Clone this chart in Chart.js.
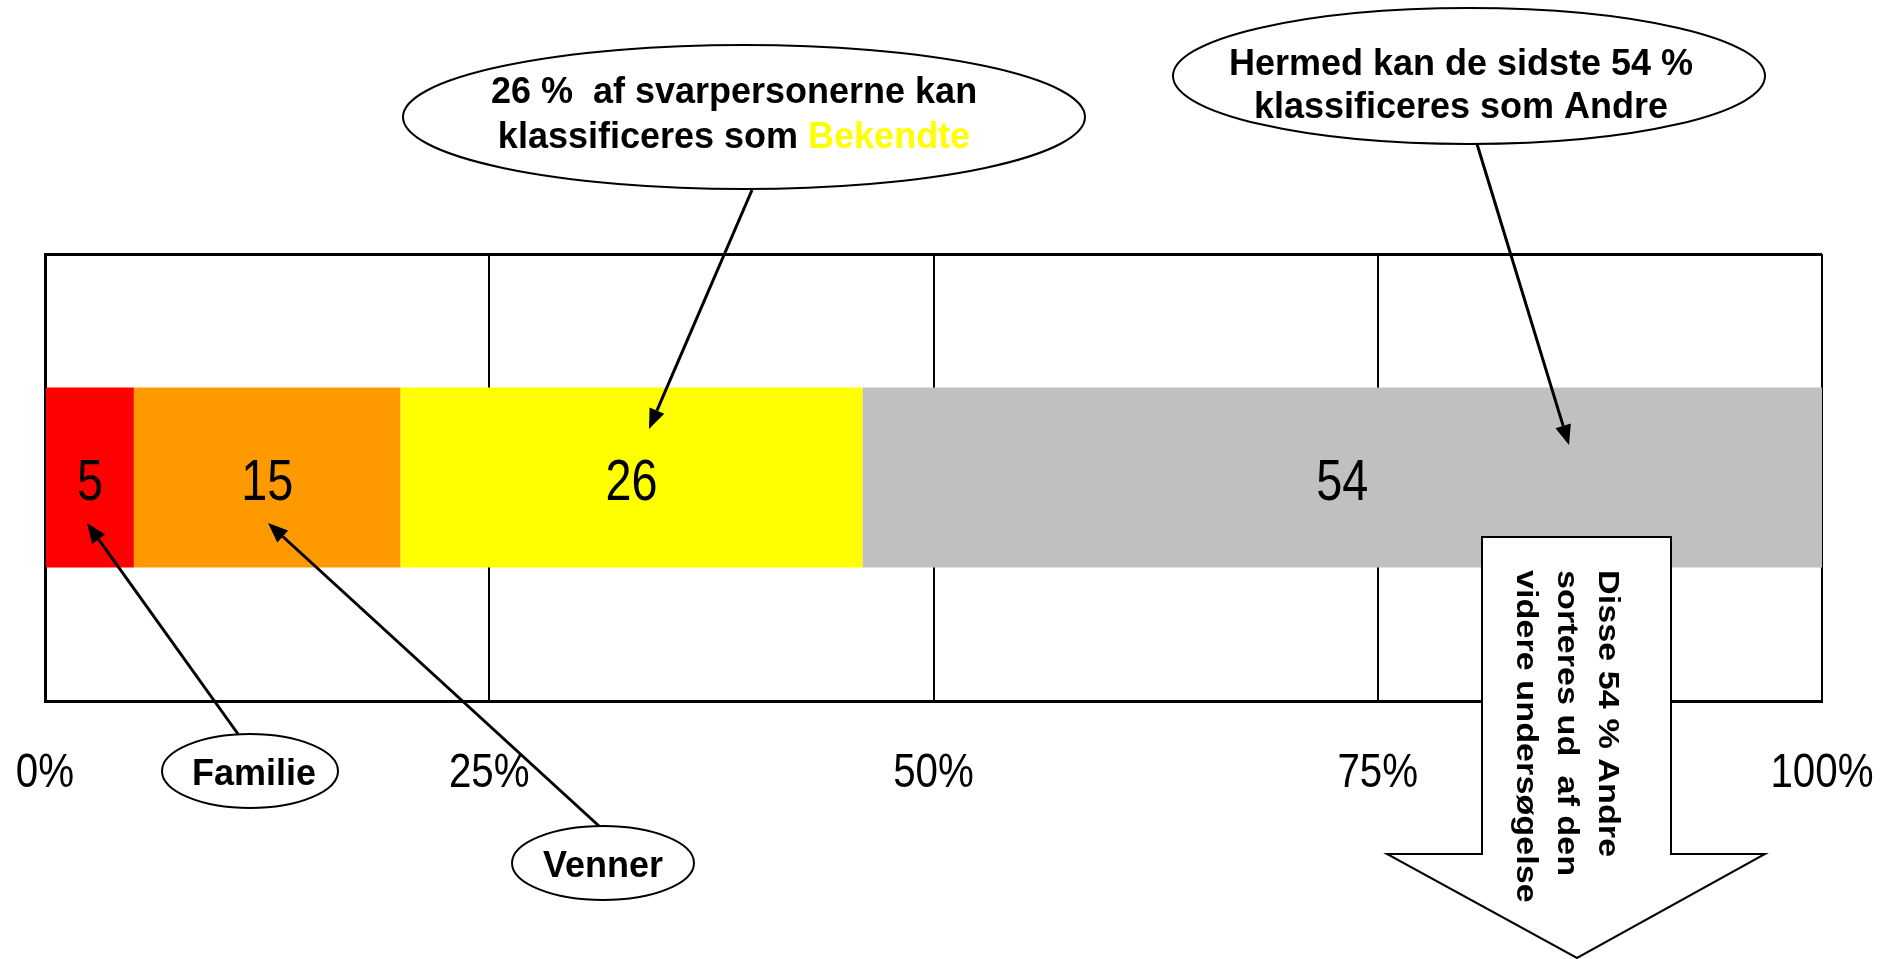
<!DOCTYPE html>
<html>
<head>
<meta charset="utf-8">
<style>
  body { margin: 0; background: #fff; }
  canvas { display: block; }
</style>
<script src="https://cdn.jsdelivr.net/npm/chart.js@4.4.1/dist/chart.umd.min.js"></script>
</head>
<body>
<canvas id="grafico" width="1896" height="959"></canvas>
<script>
// Data
const kategorier = [''];
const serier = ['Familie', 'Venner', 'Bekendte', 'Andre'];
const vaerdier = [5, 15, 26, 54];
const farver = ['#FF0000', '#FF9900', '#FFFF00', '#C0C0C0'];
const akseTicks = [0, 25, 50, 75, 100];

const fedFont = '"Liberation Sans", Arial, Helvetica, sans-serif';

// Tekstbobler og pile (placering i pixels)
const bobler = [
  { cx: 744, cy: 117, rx: 341, ry: 72, tekst: [[['26 %  af svarpersonerne kan', '#000']], [['klassificeres som ', '#000'], ['Bekendte', '#FFFF00']]], tx: 734, ty: [103, 148], fra: [752, 190], til: [649, 429] },
  { cx: 1469, cy: 76, rx: 296, ry: 68, tekst: [[['Hermed kan de sidste 54 %', '#000']], [['klassificeres som Andre', '#000']]], tx: 1461, ty: [75, 118], fra: [1477, 144], til: [1569, 445] },
  { cx: 250, cy: 771, rx: 88, ry: 37, tekst: [[['Familie', '#000']]], tx: 254, ty: [785], fra: [238, 734], til: [87, 523] },
  { cx: 603, cy: 863, rx: 91, ry: 37, tekst: [[['Venner', '#000']]], tx: 603, ty: [877], fra: [599, 826], til: [268, 523] }
];
const pilTekst = ['Disse 54 % Andre', 'sorteres ud  af den', 'videre undersøgelse'];

function pil(ctx, fra, til) {
  const vinkel = Math.atan2(til[1] - fra[1], til[0] - fra[0]);
  const l = 20, b = 8;
  const bx = til[0] - l * Math.cos(vinkel), by = til[1] - l * Math.sin(vinkel);
  ctx.beginPath();
  ctx.moveTo(fra[0], fra[1]);
  ctx.lineTo(bx, by);
  ctx.lineWidth = 3;
  ctx.strokeStyle = '#000';
  ctx.stroke();
  ctx.beginPath();
  ctx.moveTo(til[0], til[1]);
  ctx.lineTo(bx + b * Math.sin(vinkel), by - b * Math.cos(vinkel));
  ctx.lineTo(bx - b * Math.sin(vinkel), by + b * Math.cos(vinkel));
  ctx.closePath();
  ctx.fillStyle = '#000';
  ctx.fill();
}

// smal tekst (Arial Narrow-lignende), trykket sammen vandret
function smalTekst(ctx, tekst, x, y, str, sx) {
  ctx.save();
  ctx.translate(x, y);
  ctx.scale(sx, 1);
  ctx.font = str + 'px ' + fedFont;
  ctx.textAlign = 'center';
  ctx.textBaseline = 'middle';
  ctx.fillStyle = '#000';
  ctx.fillText(tekst, 0, 0);
  ctx.restore();
}

const etiketter = {
  id: 'etiketter',
  afterDatasetsDraw(chart) {
    const ctx = chart.ctx;
    chart.data.datasets.forEach((ds, i) => {
      const el = chart.getDatasetMeta(i).data[0];
      smalTekst(ctx, String(ds.data[0]), (el.x + el.base) / 2, el.y + 7, 57, 0.82);
    });
    // akse-etiketter under x-aksen
    const ax = chart.scales.x;
    ax.ticks.forEach(t => {
      smalTekst(ctx, t.label, ax.getPixelForValue(t.value), 774, 48, 0.84);
    });
  }
};

const annoteringer = {
  id: 'annoteringer',
  afterDraw(chart) {
    const ctx = chart.ctx;
    ctx.save();

    // bobler med pile
    bobler.forEach(bo => {
      pil(ctx, bo.fra, bo.til);
      ctx.beginPath();
      ctx.ellipse(bo.cx, bo.cy, bo.rx, bo.ry, 0, 0, Math.PI * 2);
      ctx.fillStyle = '#fff';
      ctx.fill();
      ctx.lineWidth = 2;
      ctx.strokeStyle = '#000';
      ctx.stroke();
      ctx.font = 'bold 36px ' + fedFont;
      ctx.textBaseline = 'alphabetic';
      ctx.textAlign = 'left';
      bo.tekst.forEach((linje, i) => {
        const bredde = linje.reduce((s, d) => s + ctx.measureText(d[0]).width, 0);
        let x = bo.tx - bredde / 2;
        linje.forEach(d => {
          ctx.fillStyle = d[1];
          ctx.fillText(d[0], x, bo.ty[i]);
          x += ctx.measureText(d[0]).width;
        });
      });
    });

    // blokpil nedad
    ctx.beginPath();
    ctx.moveTo(1482, 537);
    ctx.lineTo(1671, 537);
    ctx.lineTo(1671, 854);
    ctx.lineTo(1765, 854);
    ctx.lineTo(1577, 958);
    ctx.lineTo(1387, 854);
    ctx.lineTo(1482, 854);
    ctx.closePath();
    ctx.fillStyle = '#fff';
    ctx.fill();
    ctx.lineWidth = 2;
    ctx.strokeStyle = '#000';
    ctx.stroke();

    ctx.fillStyle = '#000';
    ctx.font = 'bold 29px ' + fedFont;
    ctx.textAlign = 'left';
    ctx.textBaseline = 'middle';
    const kolonner = [1607, 1566, 1525];
    pilTekst.forEach((t, i) => {
      ctx.save();
      ctx.translate(kolonner[i], 570);
      ctx.rotate(Math.PI / 2);
      ctx.scale(1.18, 1);
      ctx.fillText(t, 0, 0);
      ctx.restore();
    });

    ctx.restore();
  }
};

const ctx = document.getElementById('grafico').getContext('2d');

const grafico = new Chart(ctx, {
  type: 'bar',
  data: {
    labels: kategorier,
    datasets: serier.map((navn, i) => ({
      label: navn,
      data: [vaerdier[i]],
      backgroundColor: farver[i],
      borderWidth: 0,
      barPercentage: 1,
      categoryPercentage: 0.403
    }))
  },
  options: {
    indexAxis: 'y',
    responsive: false,
    animation: false,
    layout: { padding: { left: 45, right: 74, top: 254, bottom: 258 } },
    scales: {
      x: {
        stacked: true,
        min: 0,
        max: 100,
        afterBuildTicks: ax => { ax.ticks = akseTicks.map(v => ({ value: v })); },
        afterFit: ax => { ax.paddingLeft = 0; ax.paddingRight = 0; },
        ticks: {
          display: false,
          callback: v => v + '%'
        },
        grid: { color: '#000', lineWidth: 2, drawTicks: false },
        border: { color: '#000', width: 3 }
      },
      y: {
        stacked: true,
        ticks: { display: false },
        grid: { color: '#000', lineWidth: 3, drawTicks: false, offset: true },
        border: { color: '#000', width: 3 }
      }
    },
    plugins: {
      legend: { display: false },
      tooltip: { enabled: false }
    }
  },
  plugins: [etiketter, annoteringer]
});
</script>
</body>
</html>
